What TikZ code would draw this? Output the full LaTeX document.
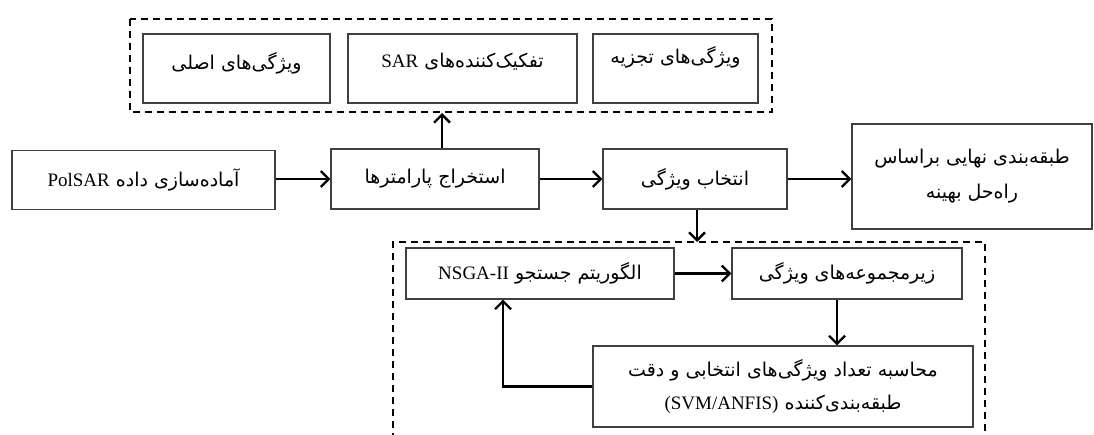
\documentclass[tikz,border=0pt]{standalone}
\usepackage{fontspec}
\setmainfont{Liberation Serif}
\newfontfamily\farsi[Script=Arabic]{DejaVu Sans}
\TeXXeTstate=1
\usetikzlibrary{arrows.meta}
\newcommand{\fa}[1]{{\farsi\beginR #1\endR}}
\newcommand{\en}[1]{{\rmfamily\beginL #1\endL{}}}
\begin{document}
\begin{tikzpicture}[x=1pt,y=-1pt,
  box/.style={draw=black!75,line width=1.1pt,inner sep=0pt,font=\fontsize{19}{23}\selectfont},
  arr/.style={line width=2.4pt,-{Straight Barb[length=8pt,width=16pt]}},
  dashbox/.style={line width=1.8pt,dash pattern=on 7pt off 5pt}]
\useasboundingbox (0,0) rectangle (1094,435);
% top group
\node[box,minimum width=187,minimum height=69,text depth=16pt] (orig) at (236.5,68.5) {\fa{ویژگی^^^^200cهای اصلی}};
\node[box,minimum width=229,minimum height=69,text depth=16pt] (sar) at (462.5,68.5) {\fa{تفکیک^^^^200cکننده^^^^200cهای \en{SAR}}};
\node[box,minimum width=165,minimum height=69,text depth=27pt] (decomp) at (675.5,68.5) {\fa{ویژگی^^^^200cهای تجزیه}};
\draw[dashbox] (130,19) rectangle (772,112);
\coordinate (topbox) at (442,113);
% main row
\node[box,minimum width=263,minimum height=59] (prep) at (143.5,180) {\fa{آماده^^^^200cسازی داده \en{PolSAR}}};
\node[box,minimum width=208,minimum height=60] (param) at (435,179) {\fa{استخراج پارامترها}};
\node[box,minimum width=184,minimum height=60] (select) at (695,179) {\fa{انتخاب ویژگی}};
\node[box,minimum width=240,minimum height=105,align=center] (final) at (972,176.5) {\fa{طبقه^^^^200cبندی نهایی براساس}\\[12pt]\fa{راه^^^^200cحل بهینه}};
% bottom group
\draw[dashbox] (393,440) -- (393,242) -- (985,242) -- (985,440);
\coordinate (lowbox) at (697,242);
\node[box,minimum width=268,minimum height=51] (nsga) at (540,273.5) {\fa{الگوریتم جستجو \en{NSGA-II}}};
\node[box,minimum width=230,minimum height=51] (subset) at (847,273.5) {\fa{زیرمجموعه^^^^200cهای ویژگی}};
\node[box,minimum width=380,minimum height=81,align=center] (calc) at (783,386.5) {\fa{محاسبه تعداد ویژگی^^^^200cهای انتخابی و دقت}\\[10pt]\fa{طبقه^^^^200cبندی^^^^200cکننده \en{(SVM/ANFIS)}}};
\coordinate (loop) at (503,386.5);
% arrows
\draw[arr] (param.north -| topbox) -- (topbox);
\draw[arr] (param.west -| prep.east) -- (param.west);
\draw[arr] (param.east) -- (select.west);
\draw[arr] (select.east) -- (select.east -| final.west);
\draw[arr] (select.south -| lowbox) -- (lowbox);
\draw[arr] (nsga.east) -- (subset.west);
\draw[arr] ([xshift=-10pt]subset.south) -- ([xshift=-10pt]subset.south |- calc.north);
\draw[arr] (calc.west) -- (loop) -- (loop |- nsga.south);
\end{tikzpicture}
\end{document}
